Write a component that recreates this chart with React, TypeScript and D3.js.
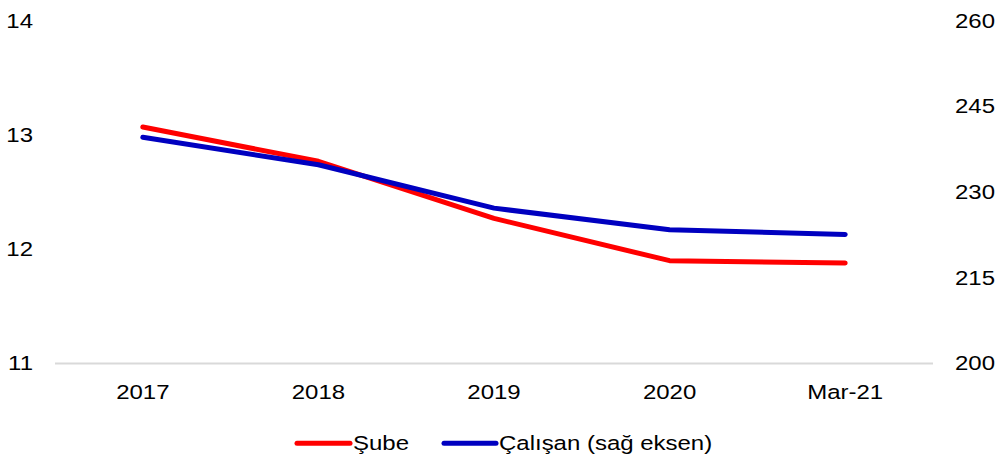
import React from "react";
import * as d3 from "d3";

const categories = ["2017", "2018", "2019", "2020", "Mar-21"];
const subeValues = [13.07, 12.77, 12.27, 11.9, 11.88];
const calisanValues = [239.6, 234.8, 227.2, 223.4, 222.6];
const leftTicks = [11, 12, 13, 14];
const rightTicks = [200, 215, 230, 245, 260];

const W = 998;
const H = 461;
const FONT = "'Liberation Sans', Arial, sans-serif";
const SX = 1.17;

function SText({ x, y, anchor, children, size = 20.5 }: any) {
  return (
    <g transform={`translate(${x},${y}) scale(${SX},1)`}>
      <text
        textAnchor={anchor}
        dominantBaseline="central"
        fontFamily={FONT}
        fontSize={size}
        fill="#000"
      >
        {children}
      </text>
    </g>
  );
}

export default function App() {
  const x = d3.scaleBand<string>().domain(categories).range([55, 933]);
  const yL = d3.scaleLinear().domain([11, 14]).range([363.5, 20.8]);
  const yR = d3.scaleLinear().domain([200, 260]).range([363.5, 20.8]);
  const cx = (c: string) => (x(c) as number) + x.bandwidth() / 2;

  const lineL = d3
    .line<number>()
    .x((_, i) => cx(categories[i]))
    .y((d) => yL(d));
  const lineR = d3
    .line<number>()
    .x((_, i) => cx(categories[i]))
    .y((d) => yR(d));

  return (
    <svg
      width={W}
      height={H}
      style={{ position: "absolute", left: 0, top: 0, background: "#fff" }}
    >
      <line x1={55} x2={933} y1={363.5} y2={363.5} stroke="#d9d9d9" strokeWidth={2} />
      {leftTicks.map((t) => (
        <SText key={"l" + t} x={33} y={yL(t)} anchor="end">
          {t}
        </SText>
      ))}
      {rightTicks.map((t) => (
        <SText key={"r" + t} x={955} y={yR(t)} anchor="start">
          {t}
        </SText>
      ))}
      {categories.map((c) => (
        <SText key={c} x={cx(c)} y={392} anchor="middle">
          {c}
        </SText>
      ))}
      <path
        d={lineL(subeValues) || ""}
        fill="none"
        stroke="#FF0000"
        strokeWidth={5}
        strokeLinecap="round"
        strokeLinejoin="round"
      />
      <path
        d={lineR(calisanValues) || ""}
        fill="none"
        stroke="#0000C0"
        strokeWidth={5}
        strokeLinecap="round"
        strokeLinejoin="round"
      />
      <line x1={297} x2={350} y1={443.3} y2={443.3} stroke="#FF0000" strokeWidth={5} strokeLinecap="round" />
      <SText x={353} y={443} anchor="start">Şube</SText>
      <line x1={444} x2={496} y1={443.3} y2={443.3} stroke="#0000C0" strokeWidth={5} strokeLinecap="round" />
      <SText x={499} y={443} anchor="start">Çalışan (sağ eksen)</SText>
    </svg>
  );
}
